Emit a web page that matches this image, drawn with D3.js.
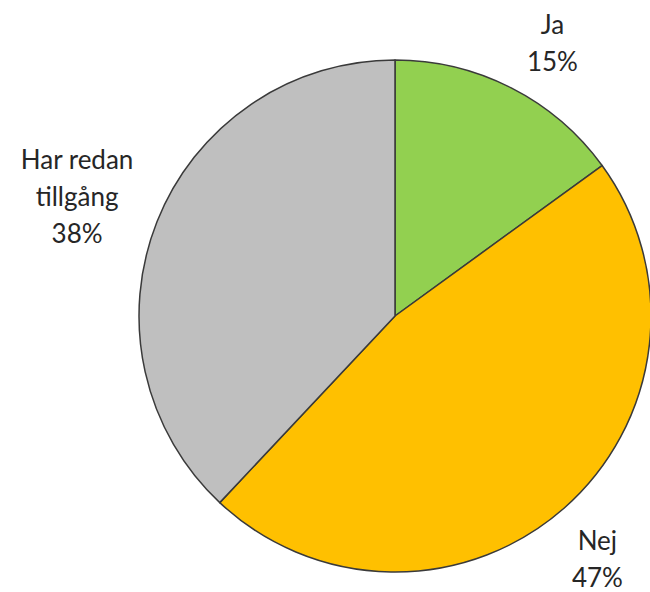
<!DOCTYPE html>
<html>
<head>
<meta charset="utf-8">
<script src="https://cdn.jsdelivr.net/npm/d3@7"></script>
<style>
  body { margin: 0; background: #fff; }
  svg text { font-family: Lato, "Open Sans", sans-serif; }
</style>
</head>
<body>
<div id="chart"></div>
<script>
const categories = ["Ja", "Nej", "Har redan tillgång"];
const shares = [15, 47, 38];
const colors = ["#92d050", "#ffc000", "#bfbfbf"];
// label lines per slice (name split as in the picture)
const labelLines = [["Ja"], ["Nej"], ["Har redan", "tillgång"]];

const width = 650;
const height = 592;
const center = { x: 395, y: 316 };
const radius = 256;
const lineHeight = 37;

const svg = d3.select("#chart")
    .append("svg")
    .attr("width", width)
    .attr("height", height);

const data = categories.map((c, i) => ({
    name: c,
    value: shares[i],
    color: colors[i],
    lines: labelLines[i]
}));

const pie = d3.pie()
    .sort(null)
    .value(d => d.value);

const arc = d3.arc()
    .innerRadius(0)
    .outerRadius(radius);

const arcs = pie(data);

const graph = svg.append("g")
    .attr("transform", `translate(${center.x},${center.y})`);

graph.selectAll("path.slice")
    .data(arcs)
    .join("path")
    .attr("class", "slice")
    .attr("d", arc)
    .attr("fill", d => d.data.color)
    .attr("stroke", "#3a3a3a")
    .attr("stroke-width", 1.5)
    .attr("stroke-linejoin", "round");

// labels sit outside the pie along (roughly) the slice's mid angle
const labelOffsets = [
    { r: 1.23, nudge: 3 },
    { r: 1.235, nudge: 1.6 },
    { r: 1.326, nudge: -1.1 }
];

graph.selectAll("text.label")
    .data(arcs)
    .join("text")
    .attr("class", "label")
    .attr("text-anchor", "middle")
    .attr("fill", "#262626")
    .attr("font-size", "26px")
    .each(function (d, i) {
        const mid = (d.startAngle + d.endAngle) / 2 + labelOffsets[i].nudge * Math.PI / 180;
        const r = radius * labelOffsets[i].r;
        const px = Math.sin(mid) * r;
        const py = -Math.cos(mid) * r;
        const lines = d.data.lines.concat([`${d.data.value}%`]);
        const top = py - (lines.length - 1) * lineHeight / 2;
        const t = d3.select(this);
        lines.forEach((l, k) => {
            t.append("tspan")
                .attr("x", px)
                .attr("y", top + k * lineHeight)
                .attr("dy", "0.35em")
                .text(l);
        });
    });
</script>
</body>
</html>
